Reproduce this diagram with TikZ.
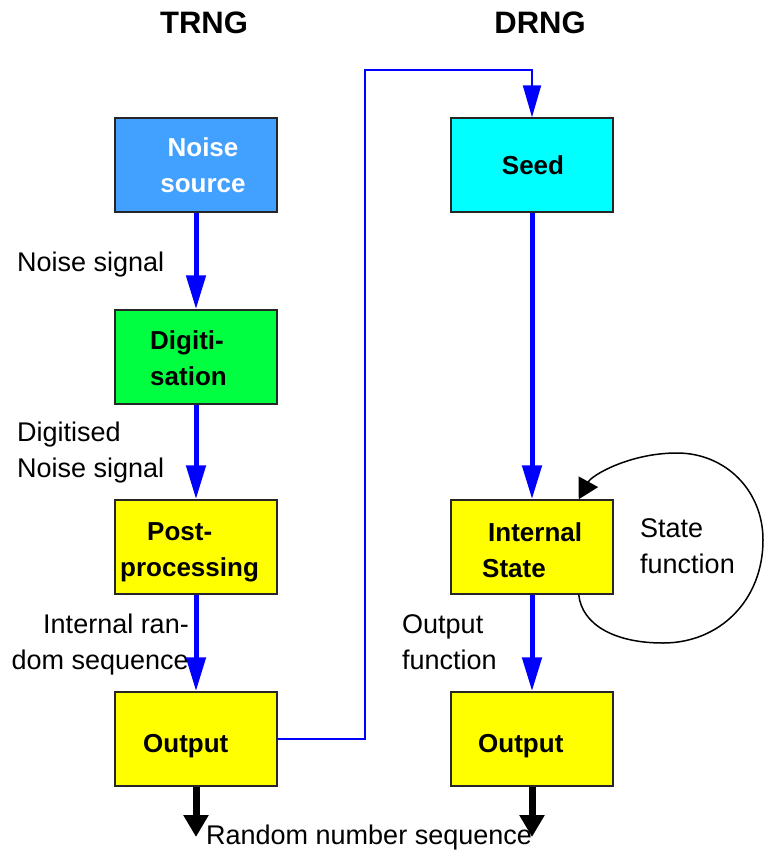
\documentclass[tikz,border=0pt]{standalone}
\usepackage{fontspec}
\setmainfont{Liberation Sans}
\usetikzlibrary{arrows.meta}
\definecolor{nsblue}{RGB}{66,160,255}
\definecolor{dggreen}{RGB}{0,255,64}
\definecolor{boxyellow}{RGB}{255,255,0}
\definecolor{boxcyan}{RGB}{0,255,255}
\begin{document}
\begin{tikzpicture}[x=1pt,y=-1pt,
  box/.style={draw=black!85, line width=1.5pt, minimum width=162pt, minimum height=94pt, inner sep=0pt},
  btext/.style={font=\fontsize{26}{36}\selectfont\bfseries, inner sep=0pt},
  lbl/.style={font=\fontsize{27}{36}\selectfont, align=left, inner sep=0pt, anchor=west},
  title/.style={font=\fontsize{31}{36}\selectfont\bfseries, inner sep=0pt},
  flow/.style={draw=blue, line width=5pt, -{Triangle[length=34pt,width=19pt]}},
  wire/.style={draw=blue, line width=2pt, -{Triangle[length=32pt,width=18pt]}},
  outarrow/.style={draw=black, line width=7pt, -{Triangle[length=22pt,width=24pt]}},
  loop/.style={draw=black, line width=1.5pt, -{Triangle[length=20pt,width=22pt]}}]
\useasboundingbox (0,0) rectangle (764,851);
% titles
\node[title] (trng) at (204,23) {TRNG};
\node[title] (drng) at (540,23) {DRNG};
% TRNG boxes
\node[box, fill=nsblue] (ns) at (196,165) {};
\node[box, fill=dggreen] (dg) at (196,357) {};
\node[box, fill=boxyellow] (pp) at (196,547) {};
\node[box, fill=boxyellow] (to) at (196,739) {};
% DRNG boxes
\node[box, fill=boxcyan] (seed) at (532,165) {};
\node[box, fill=boxyellow] (is) at (532,547) {};
\node[box, fill=boxyellow] (do) at (532,739) {};
% box texts
\node[btext, text=white, align=center] (tns) at (203,165) {Noise\\source};
\node[btext, align=left, anchor=west] (tdg) at (150,358) {Digiti-\\sation};
\node[btext, align=left, anchor=west] (tpp) at (120,552) {\hspace*{27pt}Post-\\processing};
\node[btext, anchor=west] (tto) at (143,746) {Output};
\node[btext] (tseed) at (533,165) {Seed};
\node[btext, align=left, anchor=west] (tis) at (482,550) {\hspace*{6pt}Internal\\State};
\node[btext, anchor=west] (tdo) at (478,746) {Output};
% labels
\node[lbl] (l1) at (17,265) {Noise signal};
\node[lbl] (l2) at (17,453) {Digitised\\Noise signal};
\node[lbl, align=right, anchor=east] (l3) at (189,645) {Internal ran-\\dom sequence};
\node[lbl] (l4) at (402,642) {Output\\function};
\node[lbl] (l5) at (640,546) {State\\function};
\node[lbl] (l6) at (206,838) {Random number sequence};
% flows
\draw[flow] (ns.south) -- (dg.north);
\draw[flow] (dg.south) -- (pp.north);
\draw[flow] (pp.south) -- (to.north);
\draw[flow] (seed.south) -- (is.north);
\draw[flow] (is.south) -- (do.north);
% wire
\coordinate (w1) at (365,70);
\draw[wire] (to.east) -| (w1) -| (seed.north);
% outputs
\coordinate (e1) at (196,837);
\coordinate (e2) at (532,837);
\draw[outarrow] (to.south) -- (e1);
\draw[outarrow] (do.south) -- (e2);
% state loop
\coordinate (ls) at ([xshift=-35pt]is.south east);
\coordinate (le) at ([xshift=-35pt]is.north east);
\draw[loop] (ls) .. controls (582,625) and (615,643) .. (663,643)
  .. controls (720,643) and (763,600) .. (763,540)
  .. controls (763,490) and (725,453) .. (677,453)
  .. controls (630,453) and (592,475) .. (le);
\end{tikzpicture}
\end{document}
